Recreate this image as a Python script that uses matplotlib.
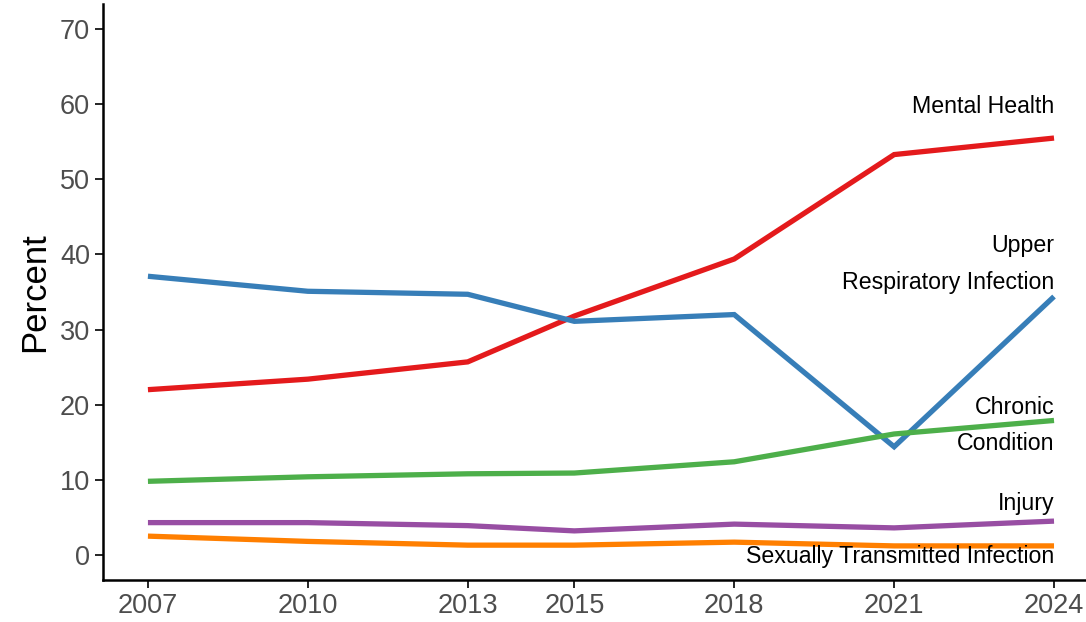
import matplotlib.pyplot as plt

plt.rcParams['font.family'] = ['Liberation Sans', 'DejaVu Sans']

years = [2007, 2010, 2013, 2015, 2018, 2021, 2024]
mental_health = [22.0, 23.4, 25.7, 31.8, 39.4, 53.3, 55.5]
upper_resp = [37.1, 35.1, 34.7, 31.1, 32.0, 14.4, 34.4]
chronic = [9.8, 10.4, 10.8, 10.9, 12.4, 16.1, 17.9]
injury = [4.3, 4.3, 3.9, 3.2, 4.1, 3.6, 4.5]
sti = [2.5, 1.8, 1.3, 1.3, 1.7, 1.2, 1.2]

series = [
    ('Mental Health', mental_health, '#E41A1C', 59.7),
    ('Upper\nRespiratory Infection', upper_resp, '#377EB8', 38.7),
    ('Chronic\nCondition', chronic, '#4DAF4A', 17.2),
    ('Injury', injury, '#984EA3', 6.9),
    ('Sexually Transmitted Infection', sti, '#FF7F00', -0.2),
]

fig = plt.figure(figsize=(10.86, 6.22), dpi=100)
ax = fig.add_axes([0.095, 0.068, 0.905, 0.925])

for name, vals, col, lab_y in series:
    ax.plot(years, vals, color=col, lw=3.8, solid_capstyle='butt', solid_joinstyle='miter')
    ax.text(2024, lab_y, name, ha='right', va='center', fontsize=16.7, color='black',
            linespacing=1.75)

ax.set_xlim(2006.16, 2024.6)
ax.set_ylim(-3.3, 73.3)
ax.set_xticks(years)
ax.set_yticks(range(0, 71, 10))
ax.tick_params(labelsize=19.5, colors='#4D4D4D', length=6, width=1.2)
ax.tick_params(axis='both', color='black')
ax.set_ylabel('Percent', fontsize=25, labelpad=6)

for s in ['top', 'right']:
    ax.spines[s].set_visible(False)
for s in ['left', 'bottom']:
    ax.spines[s].set_linewidth(1.8)

fig.savefig('out.png', dpi=100)
